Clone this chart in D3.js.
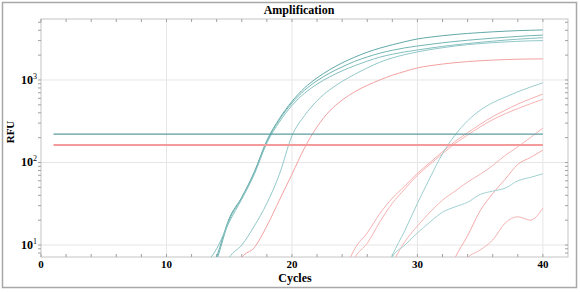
<!DOCTYPE html>
<html><head><meta charset="utf-8">
<script src="https://cdn.jsdelivr.net/npm/d3@7"></script>
<style>html,body{margin:0;padding:0;background:#fff}svg{display:block}</style>
</head><body><svg id="c" width="580" height="292"></svg>
<script>
// ---- data ----
const title = "Amplification";
const xLabel = "Cycles";
const yLabel = "RFU";
const xTicks = [0, 10, 20, 30, 40];
const yTicks = [10, 100, 1000];
const yTickExp = ["1", "2", "3"];
const thresholdTeal = 221;
const thresholdRed = 163;

// each series: first cycle, then RFU per cycle
const t1Start = 13, t1 = [3, 7.2, 21, 38, 77, 185, 340, 550, 800, 1060, 1330, 1610, 1890, 2170, 2430, 2670, 2910, 3140, 3300, 3440, 3560, 3660, 3750, 3830, 3900, 3960, 4000, 4040];
const t2Start = 13, t2 = [2.5, 6.5, 20, 37, 75, 180, 330, 525, 750, 980, 1210, 1440, 1680, 1900, 2110, 2290, 2450, 2580, 2700, 2820, 2930, 3030, 3120, 3210, 3290, 3370, 3440, 3500];
const t3Start = 12, t3 = [3, 5.5, 9, 19, 36, 72, 172, 310, 490, 690, 890, 1090, 1290, 1490, 1690, 1890, 2050, 2190, 2310, 2430, 2550, 2660, 2760, 2860, 2950, 3040, 3120, 3190, 3250];
const t4Start = 14, t4 = [3, 7, 10, 17, 32, 72, 210, 370, 560, 760, 960, 1170, 1400, 1640, 1850, 2030, 2190, 2330, 2460, 2580, 2680, 2760, 2830, 2890, 2940, 2980, 3000];
const t5Start = 27, t5 = [3, 7.5, 15, 32, 65, 128, 215, 320, 430, 530, 620, 720, 820, 925];
const t6Start = 27, t6 = [3, 7.2, 10, 14, 19, 25, 29, 33, 41, 45, 49, 60, 66, 73];
const r1Start = 15, r1 = [3, 7, 9.3, 17, 35, 72, 150, 270, 420, 570, 720, 860, 1000, 1140, 1270, 1400, 1490, 1560, 1620, 1670, 1710, 1740, 1765, 1785, 1795, 1800];
const r2Start = 24, r2 = [4, 9, 14, 24, 37, 52, 74, 100, 135, 180, 230, 290, 360, 430, 510, 590, 676];
const r3Start = 24, r3 = [3, 7, 10.5, 19, 32, 48, 70, 95, 128, 170, 215, 270, 330, 390, 450, 515, 583];
const r4Start = 27, r4 = [3, 6, 11, 17, 25, 35, 45, 58, 72, 92, 122, 155, 200, 262];
const r5Start = 32, r5 = [3, 7, 13, 26, 42, 63, 95, 115, 141];
const r6Start = 33, r6 = [4, 7, 8.7, 11.5, 18.5, 22, 20, 28];

const tealSeries = [[t1Start, t1], [t2Start, t2], [t3Start, t3], [t4Start, t4], [t5Start, t5], [t6Start, t6]];
const redSeries = [[r1Start, r1], [r2Start, r2], [r3Start, r3], [r4Start, r4], [r5Start, r5], [r6Start, r6]];

// ---- drawing ----
const svg = d3.select("#c");
const L = 41, R = 568, T = 19, B = 257;
const x = d3.scaleLinear().domain([0, 42]).range([L, R]);
const y = d3.scaleLog().domain([7.16, 5480]).range([B, T]);
const serif = "'Liberation Serif','Times New Roman',serif";

svg.append("rect").attr("x", 2.5).attr("y", 2.5).attr("width", 574).attr("height", 285)
  .attr("fill", "#fff").attr("stroke", "#a8a8a8").attr("stroke-width", 1.5);

// grid
const grid = svg.append("g").attr("stroke", "#e6e6e6").attr("stroke-width", 1);
xTicks.filter(d => d > 0).forEach(d => grid.append("line").attr("x1", x(d)).attr("x2", x(d)).attr("y1", T).attr("y2", B));
yTicks.forEach(d => grid.append("line").attr("x1", L).attr("x2", R).attr("y1", y(d)).attr("y2", y(d)));

// frame
svg.append("rect").attr("x", L).attr("y", T).attr("width", R - L).attr("height", B - T)
  .attr("fill", "none").attr("stroke", "#c4c4c4").attr("stroke-width", 1);

// minor ticks
const minorX = d3.range(0, 42, 2);
const minorY = [];
[1, 10, 100, 1000].forEach(p => { for (let k = 1; k < 10; k++) { const v = p * k; if (v >= 7.16 && v <= 5480) minorY.push(v); } });
const tk = svg.append("g").attr("stroke", "#a0a0a0").attr("stroke-width", 1);
minorX.forEach(d => {
  tk.append("line").attr("x1", x(d)).attr("x2", x(d)).attr("y1", B).attr("y2", B - 3);
  tk.append("line").attr("x1", x(d)).attr("x2", x(d)).attr("y1", T).attr("y2", T + 3);
});
minorY.forEach(d => {
  tk.append("line").attr("x1", L).attr("x2", L - 3).attr("y1", y(d)).attr("y2", y(d));
  tk.append("line").attr("x1", R).attr("x2", R - 3).attr("y1", y(d)).attr("y2", y(d));
});

// clip
svg.append("clipPath").attr("id", "clip").append("rect").attr("x", L).attr("y", T).attr("width", R - L).attr("height", B - T);
const plot = svg.append("g").attr("clip-path", "url(#clip)");

const line = d3.line().x(d => x(d[0])).y(d => y(d[1])).curve(d3.curveMonotoneX);
const toPts = (s) => s[1].map((v, i) => [s[0] + i, v]);

const tealCols = ["#62a9a9", "#74b5b5", "#86c0c0", "#92c8c8", "#9ccece", "#a2d1d1"];
const redCols = ["#f3a2a2", "#f6b0b0", "#f6b2b2", "#f6b4b4", "#f5abab", "#f6b3b3"];
redSeries.forEach((s, i) => plot.append("path").attr("d", line(toPts(s))).attr("fill", "none").attr("stroke", redCols[i]).attr("stroke-width", 1));
tealSeries.forEach((s, i) => plot.append("path").attr("d", line(toPts(s))).attr("fill", "none").attr("stroke", tealCols[i]).attr("stroke-width", 1));

// thresholds
plot.append("line").attr("x1", x(1)).attr("x2", x(40)).attr("y1", y(thresholdTeal)).attr("y2", y(thresholdTeal))
  .attr("stroke", "#5a9d9f").attr("stroke-width", 1.1);
plot.append("line").attr("x1", x(1)).attr("x2", x(40)).attr("y1", y(thresholdRed)).attr("y2", y(thresholdRed))
  .attr("stroke", "#f39a9a").attr("stroke-width", 2);

// labels
svg.selectAll(".xt").data(xTicks).enter().append("text")
  .attr("x", d => x(d)).attr("y", 268).attr("text-anchor", "middle")
  .attr("font-family", serif).attr("font-weight", "bold").attr("font-size", 11).text(d => d);
yTicks.forEach((d, i) => {
  const t = svg.append("text").attr("x", 37).attr("y", y(d) + 4).attr("text-anchor", "end")
    .attr("font-family", serif).attr("font-weight", "bold").attr("font-size", 12);
  t.append("tspan").text("10");
  t.append("tspan").attr("dy", -5).attr("font-size", 8).attr("font-weight", "normal").text(yTickExp[i]);
});
svg.append("text").attr("x", 299).attr("y", 14).attr("text-anchor", "middle")
  .attr("font-family", serif).attr("font-weight", "bold").attr("font-size", 12).text(title);
svg.append("text").attr("x", 295).attr("y", 282).attr("text-anchor", "middle")
  .attr("font-family", serif).attr("font-weight", "bold").attr("font-size", 12).text(xLabel);
svg.append("text").attr("transform", "translate(14,132) rotate(-90)").attr("text-anchor", "middle")
  .attr("font-family", serif).attr("font-weight", "bold").attr("font-size", 11).text(yLabel);
</script></body></html>
